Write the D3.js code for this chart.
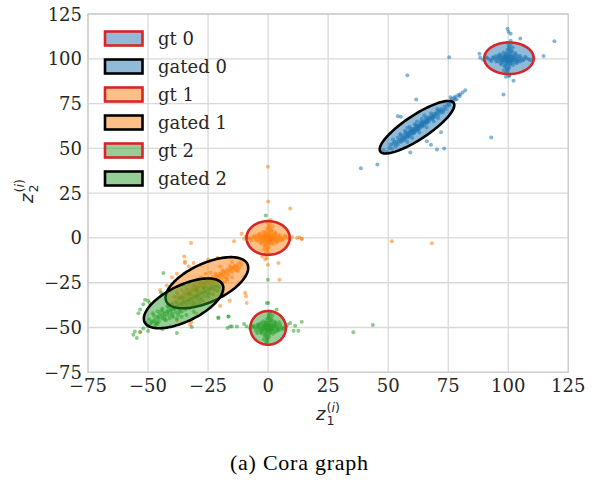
<!DOCTYPE html>
<html><head><meta charset="utf-8">
<script src="https://cdn.jsdelivr.net/npm/d3@7"></script>
<style>body{margin:0;background:#fff}</style>
</head><body><svg id="c" width="592" height="480"></svg>
<script>
// ---------- data ----------
const xTicks = [-75,-50,-25,0,25,50,75,100,125];
const yTicks = [-75,-50,-25,0,25,50,75,100,125];
const legendLabels = ["gt 0","gated 0","gt 1","gated 1","gt 2","gated 2"];
const caption = "(a) Cora graph";

// class 0 (blue) embedded points
const class0Points = [
 [100,100],[99.2,100.4],[100.8,99.6],[100.4,101],[99.6,99],[98.4,100.2],[101.6,99.8],[100.2,101.8],[99.8,98.2],[97.5,100.5],[102.5,99.5],[100.5,102.8],[99.5,97.2],[96.5,99.8],[103.5,100.2],[100,104],[100,96],[95.5,100.3],[104.5,99.7],[99.6,105],[100.4,95],[101.2,101.4],[98.8,98.6],[101.4,98.8],[98.6,101.2],[97.8,102],[102.2,98],[97.6,98.2],[102.4,101.8],[94.5,99.8],[105.5,100.2],[100.3,106],[99.7,94],[93.5,100.4],[106.5,99.6],[100.2,107],[99.8,93],[96.5,102.5],[103.5,97.5],[96.8,97.5],[103.2,102.5],[92.5,99.5],[107.5,100.5],[100.8,108],[99.2,92],[95,101.5],[105,98.5],[101.5,104.5],[98.5,95.5],[91.5,100.2],[108.5,99.8],[99.5,109],[100.5,91],[99,103],[101,97],[98,99],[102,101],[97,101],[103,99],[100.6,100.6],[99.4,99.4],[95.8,98.6],[104.2,101.4],[101.8,106.5],[98.2,93.5],[90.8,100.8],[109.2,99.2],
 [99,101.5],[101,98.5],[98.5,100.8],[101.5,99.2],[100.3,99.3],[99.7,100.7],[97,99.2],[103,100.8],[99.3,102.5],[100.7,97.5],[96,101],[104,99],[98,103.5],[102,96.5],[98.8,96],[101.2,104],[95,98.5],[105,101.5],[97.2,96.8],[102.8,103.2],[94,101],[106,99],[101,110],[99,90],[89.5,99.5],[110.5,100.5],[100,100.8],[100,99.2],[99.1,99.8],[100.9,100.2],[97.8,99.6],[102.2,100.4],[99.9,101.3],[100.1,98.7],[96.3,101.8],[103.7,98.2],[101.3,102.6],[98.7,97.4],[93,98.8],[107,101.2],[100.6,105.5],[99.4,94.5],
 [99.7,116.8],[100.1,115.1],[101,114],[105,111.3],[119.2,109.8],[114.7,101.5],[88,102.8],[88.3,100.6],[102.2,87.7],[98,80.1],[100.3,90.3],[75.4,100.9],[58,90.8],[61.7,77.3],[92.9,56],[38.6,38.9],[45.5,41],[70.3,49.3],[73.3,49.9],[59.2,47.7],[67.8,52],[66.1,54],[72,59],[82.1,82.5],[81,81.2],[79.7,79.1],[77.9,77.3],[54,67.9],[55.3,67.6],
 [50.5,50.2],[51.5,49.8],[52,52.5],[53,51],[53.5,53.8],[54,52.2],[54.8,55],[55.2,53.6],[55.8,56.2],[56,54.2],[56.5,57.5],[57,55.5],[57.3,56.8],[57.8,58.5],[58,56],[58.4,57.5],[58.8,59.5],[59,57.2],[59.3,58.4],[59.6,60.2],[60,58],[60.2,59.3],[60.5,61],[60.8,58.8],[61,60],[61.3,61.8],[61.5,59.5],[61.8,60.8],[62,62.5],[62.2,60.2],[62.5,61.5],[62.8,63],[63,61],[63.3,62.4],[63.6,64],[64,62],[64.2,63.3],[64.6,65],[65,63],[65.3,64.4],[65.7,66.2],[66,64],[66.4,65.5],[66.8,67.3],[67,65],[67.5,66.6],[68,68.4],[68.3,66.2],[68.8,67.8],[69.2,69.5],[69.6,67.5],[70,69],[70.5,70.8],[71,68.8],[71.4,70.4],[72,72],[72.3,70],[72.8,71.6],[73.4,73.2],[74,72],[74.5,73.8],[75,75],[75.5,74],[76,76.2],[57,59.8],[59,62],[61,63.5],[64,66.5],[63,58.8],[66,61.8],[69,65],[52,55],[55,58],[58,53.5],[48,49],[49.5,48],
 [53.2,52.5],[54.5,54],[55.5,55],[56.3,55.8],[57.5,57],[58.2,58],[59,58.8],[59.8,59.5],[60.4,60],[61.2,60.8],[61.9,61.5],[62.6,62.2],[63.4,63],[64.1,63.8],[64.8,64.5],[65.6,65.2],[66.5,66],[67.3,66.8],[68.2,67.5],[69.1,68.3],[70.2,69.6],[71.5,71],[56.8,54.6],[58.6,56.5],[60.6,58.4],[62.4,60.6],[64.4,62.5],[66.2,64.7],[68.5,66.9],[55.2,57.2],[57.2,59],[59.5,61],[61.6,63],[63.7,65.2],[65.8,67.4],[67.8,69.6],[70.5,72],[52.5,53.5],[54,56],[73,70.5],[51,52],[60,55.8],[65,68.5],[70.8,67],[62,65],[58,61.5],
 [76.5,77.5],[77.5,78.2],[78.5,77.4],[79.2,79.8],[77,76.5],[80,80.2],[78,79],[76,78.5]
];
// class 1 (orange) embedded points
const class1Points = [
 [0,0],[-0.8,0.4],[0.8,-0.4],[0.4,1],[-0.4,-1],[-1.6,0.2],[1.6,-0.2],[0.2,1.8],[-0.2,-1.8],[-2.5,0.5],[2.5,-0.5],[0.5,2.8],[-0.5,-2.8],[-3.5,-0.2],[3.5,0.2],[0,4],[0,-4],[-4.5,0.3],[4.5,-0.3],[-0.4,5],[0.4,-5],[1.2,1.4],[-1.2,-1.4],[1.4,-1.2],[-1.4,1.2],[-2.2,2],[2.2,-2],[-2.4,-1.8],[2.4,1.8],[-5.5,-0.2],[5.5,0.2],[0.3,6],[-0.3,-6],[-6.5,0.4],[6.5,-0.4],[0.2,7],[-0.2,-7],[-3.5,2.5],[3.5,-2.5],[-3.2,-2.5],[3.2,2.5],[-7.5,-0.5],[7.5,0.5],[0.8,8],[-0.8,-8],[-5,1.5],[5,-1.5],[1.5,4.5],[-1.5,-4.5],[-8.5,0.2],[8.5,-0.2],[-0.5,9],[0.5,-9],[-1,3],[1,-3],[-2,-1],[2,1],[-3,1],[3,-1],[0.6,0.6],[-0.6,-0.6],[-4.2,-1.4],[4.2,1.4],[1.8,6.5],[-1.8,-6.5],[-9.2,0.8],[9.2,-0.8],
 [-1,1.5],[1,-1.5],[-1.5,0.8],[1.5,-0.8],[0.3,-0.7],[-0.3,0.7],[-3,-0.8],[3,0.8],[-0.7,2.5],[0.7,-2.5],[-4,1],[4,-1],[-2,3.5],[2,-3.5],[-1.2,-4],[1.2,4],[-5,-1.5],[5,1.5],[-2.8,-3.2],[2.8,3.2],[-6,1],[6,-1],[1,10],[-1,-9.5],[-10,-0.5],[10,0.5],[0,0.8],[0,-0.8],[-0.9,-0.2],[0.9,0.2],[-2.2,-0.4],[2.2,0.4],[-0.1,1.3],[0.1,-1.3],[-3.7,1.8],[3.7,-1.8],[1.3,2.6],[-1.3,-2.6],[-7,-1.2],[7,1.2],[0.6,5.5],[-0.6,-5.5],
 [-14.2,-1.9],[-11,2.4],[12,0],[14,-0.6],[14,-0.4],[-1.25,-12.1],[-0.1,-14.9],[4.3,-14],[-2.4,-10.3],[0,20.4],[9.2,16.4],[4.7,-23.3],[-0.5,-11.2],[51.5,-1.9],[68.2,-3],[-0.1,39.7],[13,0.4],
 [-40,-36.5],[-39,-33],[-38,-35.5],[-37.5,-31.5],[-37,-34],[-36,-32.5],[-35.5,-35],[-35,-30.5],[-34.5,-33],[-34,-31.2],[-33.5,-28.8],[-33,-32.5],[-32.5,-30],[-32,-27.8],[-31.5,-31.5],[-31,-29],[-30.5,-26.5],[-30,-30.5],[-29.5,-28],[-29,-25.5],[-28.5,-29.2],[-28,-26.8],[-27.5,-24.5],[-27,-28],[-26.5,-25.5],[-26,-23.5],[-25.5,-27],[-25,-25],[-24.5,-22.8],[-24,-26.2],[-23.5,-24],[-23,-21.8],[-22.5,-25],[-22,-23],[-21.5,-20.8],[-21,-24],[-20.5,-22],[-20,-19.8],[-19.5,-23],[-19,-21],[-18.5,-18.8],[-18,-21.8],[-17.5,-19.8],[-17,-17.5],[-16.5,-20.5],[-16,-18.5],[-15.5,-16.5],[-15,-19],[-14.5,-17],[-14,-15.5],[-13.5,-18],[-13,-16],[-12.5,-14.5],[-12,-16.8],[-11.5,-13.5],[-28,-22],[-30,-24],[-26,-30],[-22,-28],[-33,-26],[-19,-25],[-24,-19.5],[-36,-29],[-20,-16],[-35,-26.5],[-38,-30],[-17,-23.5],[-15,-13.5],[-29.5,-33],
 [-36.5,-33.5],[-35,-32],[-33.8,-31],[-32.6,-30],[-31.4,-29],[-30.2,-28],[-29,-27.2],[-27.8,-26.2],[-26.6,-25.4],[-25.4,-24.5],[-24.2,-23.6],[-23,-22.8],[-21.8,-22],[-20.6,-21],[-19.4,-20.2],[-18.2,-19.4],[-17,-18.6],[-15.8,-17.6],[-14.6,-16.8],[-13.4,-15.8],[-34,-28.5],[-31,-26.5],[-28,-24.5],[-25,-22.5],[-22,-20],[-19,-18],[-16,-15.5],[-33,-34.5],[-30,-32.5],[-27,-30.5],[-24,-28.5],[-21,-26.5],[-18,-24.5],[-15,-22],[-38.5,-33],[-12.5,-18.5],[-11,-15],[-26,-20],[-23,-26.5],[-29.5,-23],
 [-32.1,-2.8],[-34.9,-10.3],[-34.7,-13.1],[-34.6,-14],[-9.6,-30.7],[-9.2,-32.6],[-8.9,-36.3],[-32.5,-48.4],[-32,-47],[-53.3,-52.7],[-42.2,-26.6],[-17.2,-22.3],[-13,-17.7],[-40,-22],[-38,-20],[-33,-16],[-31,-14],[-45,-29],[-25,-12],[-28,-15],[-21,-11],[-10,-22],[-12,-25],[-16,-35],[-20,-38],[-30,-42],[-38,-46]
];
// class 2 (green) embedded points
const class2Points = [
 [0,-50],[-0.8,-49.6],[0.8,-50.4],[0.4,-49],[-0.4,-51],[-1.6,-49.8],[1.6,-50.2],[0.2,-48.2],[-0.2,-51.8],[-2.5,-49.5],[2.5,-50.5],[0.5,-47.2],[-0.5,-52.8],[-3.5,-50.2],[3.5,-49.8],[0,-46],[0,-54],[-4.5,-49.7],[4.5,-50.3],[-0.4,-45],[0.4,-55],[1.2,-48.6],[-1.2,-51.4],[1.4,-51.2],[-1.4,-48.8],[-2.2,-48],[2.2,-52],[-2.4,-51.8],[2.4,-48.2],[-5.5,-50.2],[5.5,-49.8],[0.3,-44],[-0.3,-56],[-6.5,-49.6],[6.5,-50.4],[0.2,-43],[-0.2,-57],[-3,-47.5],[3,-52.5],[-3,-52.5],[3,-47.5],[-7.5,-50.5],[7.5,-49.5],[0.8,-42],[-0.8,-58],[-4.5,-48.5],[4.5,-51.5],[1.5,-45.5],[-1.5,-54.5],[-1,-47],[1,-53],[-2,-51],[2,-49],[0.6,-49.4],[-0.6,-50.6],[-3.8,-51.4],[3.8,-48.6],[1.8,-43.5],[-1.8,-56.5],
 [-1,-48.5],[1,-51.5],[-1.5,-49.2],[1.5,-50.8],[0.3,-50.7],[-0.3,-49.3],[-3,-50.8],[3,-49.2],[-0.7,-47.5],[0.7,-52.5],[-4,-49],[4,-51],[-2,-46.5],[2,-53.5],[-1.2,-54],[1.2,-46],[-5,-51.5],[5,-48.5],[-2.8,-53.2],[2.8,-46.8],[-6,-49],[6,-51],[0.5,-41],[-0.5,-59],[0,-49.2],[0,-50.8],[-0.9,-50.2],[0.9,-49.8],[-2.2,-50.4],[2.2,-49.6],[-0.1,-48.7],[0.1,-51.3],[-3.7,-48.2],[3.7,-51.8],[1.3,-47.4],[-1.3,-52.6],[-4.5,-53],[4.5,-47],[0.6,-44.5],[-0.6,-55.5],
 [0.1,-36.3],[-20.7,-44.4],[-16.5,-43.8],[-15.1,-49.4],[-13,-49.4],[-16.9,-50.3],[-8.9,-49.4],[9.2,-47.5],[11.25,-49],[12.6,-51.8],[10.6,-51.8],[3.6,-40],[-1,12.5],[-0.1,-23.3],[-0.5,-36.3],[14,-46.8],[35.5,-52.7],[43.6,-48.6],[-15.8,-49.4],[-10,-48],[8,-48.5],
 [-52,-50.5],[-51,-47],[-50,-49.5],[-49.5,-45.5],[-49,-48],[-48,-46.5],[-47.5,-43.5],[-47,-47.5],[-46,-44],[-45.5,-46.5],[-45,-42.5],[-44,-45],[-43.5,-41.5],[-43,-43.8],[-42.5,-46],[-42,-40.8],[-41.5,-43],[-41,-45],[-40.5,-40],[-40,-42],[-39.5,-44],[-39,-39.5],[-38.5,-41.5],[-38,-37.5],[-37.5,-43],[-37,-39.8],[-36.5,-36.5],[-36,-41],[-35.5,-38.5],[-35,-35.5],[-34.5,-40],[-34,-37.5],[-33.5,-34.8],[-33,-39],[-32.5,-36.5],[-32,-33.8],[-31.5,-38],[-31,-35.5],[-30.5,-32.8],[-30,-37],[-29.5,-34.5],[-29,-31.8],[-28.5,-36],[-28,-33.5],[-27.5,-31],[-27,-35],[-26.5,-32.5],[-26,-30],[-25,-33],[-24.5,-30.8],[-24,-28.5],[-23,-31.5],[-22.5,-29],[-22,-27],[-21,-29.5],[-20.5,-27.5],[-40,-37],[-44,-39.5],[-37,-33.5],[-33,-31],[-30,-28.5],[-46,-41],[-42,-38],[-27,-28],[-38,-45],[-34,-43],[-48,-42],
 [-48.5,-47],[-47,-45.5],[-45.5,-44.5],[-44.2,-43.5],[-43,-42.5],[-41.8,-41.5],[-40.6,-40.6],[-39.4,-39.6],[-38.2,-38.7],[-37,-37.8],[-35.8,-36.9],[-34.6,-36],[-33.4,-35],[-32.2,-34.2],[-31,-33.2],[-29.8,-32.3],[-28.6,-31.4],[-27.4,-30.5],[-26.2,-29.5],[-25,-28.6],[-46,-48],[-43,-45.5],[-40,-43.5],[-37,-41.5],[-34,-39],[-31,-36.8],[-28,-34.5],[-25,-31.5],[-44.5,-40.5],[-41.5,-38.5],[-38.5,-36],[-35.5,-33.5],[-32.5,-31.5],[-29.5,-29.8],[-26.5,-27.5],[-50.5,-48.5],[-23.5,-27.5],[-47,-49],[-36,-44],[-31,-41],
 [-43.6,-19.6],[-44.6,-30.4],[-51.25,-34.5],[-50,-35],[-49.3,-36.3],[-53.3,-40],[-55.5,-52.2],[-56.1,-54],[-53.3,-52.5],[-54.7,-55.9],[-46.4,-47.5],[-38,-53.1],[-31.8,-49.7],[-16.5,-43.8],[-20.7,-44.7],[-52,-37],[-54,-42],[-50,-52],[-44,-51]
];

// ellipses in legend order: centre, semi-axes (major, minor), rotation in degrees, class
const ellipseCenters = [[100.3,100.3],[62,61.8],[0,0],[-25.5,-25],[0,-50.2],[-35.2,-36.5]];
const ellipseAxes    = [[10.3,8.8],[20.5,6],[9,9.4],[20,10],[7.4,9.4],[19.5,9.3]];
const ellipseAngles  = [0,43,0,36,0,37];
const ellipseClass   = [0,0,1,1,2,2];

// ---------- styles ----------
const classColors = ["#1f77b4","#ff7f0e","#2ca02c"];
const edgeColors = ["#d62728","#000000","#d62728","#000000","#d62728","#000000"];

const svg = d3.select("#c");
const x = d3.scaleLinear().domain([-75,125]).range([88,568.3]);
const y = d3.scaleLinear().domain([-75,125]).range([372.3,14]);
const fmt = d3.format("");
const tickFont = "'DejaVu Serif', serif";

// grid
const g = svg.append("g");
g.selectAll(".gx").data(xTicks).join("line")
  .attr("x1",d=>x(d)).attr("x2",d=>x(d)).attr("y1",y(-75)).attr("y2",y(125))
  .attr("stroke","#d9d9d9").attr("stroke-width",1.3);
g.selectAll(".gy").data(yTicks).join("line")
  .attr("y1",d=>y(d)).attr("y2",d=>y(d)).attr("x1",x(-75)).attr("x2",x(125))
  .attr("stroke","#d9d9d9").attr("stroke-width",1.3);
g.append("rect").attr("x",x(-75)).attr("y",y(125)).attr("width",x(125)-x(-75)).attr("height",y(-75)-y(125))
  .attr("fill","none").attr("stroke","#cccccc").attr("stroke-width",1.3);

// tick labels
svg.append("g").selectAll("text").data(xTicks).join("text")
  .attr("x",d=>x(d)).attr("y",392).attr("text-anchor","middle")
  .attr("font-family",tickFont).attr("font-size",18).attr("fill","#262626")
  .text(d=>fmt(d));
svg.append("g").selectAll("text").data(yTicks).join("text")
  .attr("x",82).attr("y",d=>y(d)+6.5).attr("text-anchor","end")
  .attr("font-family",tickFont).attr("font-size",18).attr("fill","#262626")
  .text(d=>fmt(d));

// points
svg.append("clipPath").attr("id","pc").append("rect")
  .attr("x",x(-75)).attr("y",y(125)).attr("width",x(125)-x(-75)).attr("height",y(-75)-y(125));
const pts = svg.append("g").attr("clip-path","url(#pc)");
[class0Points,class1Points,class2Points].forEach((arr,i)=>{
  pts.append("g").selectAll("circle").data(arr).join("circle")
    .attr("cx",d=>x(d[0])).attr("cy",d=>y(d[1])).attr("r",2)
    .attr("fill",classColors[i]).attr("fill-opacity",0.55);
});

// ellipses
function ellipsePath(c, ax, angDeg){
  const th = angDeg*Math.PI/180, n = 120, p = d3.path();
  for(let k=0;k<=n;k++){
    const t = 2*Math.PI*k/n;
    const ex = c[0] + ax[0]*Math.cos(t)*Math.cos(th) - ax[1]*Math.sin(t)*Math.sin(th);
    const ey = c[1] + ax[0]*Math.cos(t)*Math.sin(th) + ax[1]*Math.sin(t)*Math.cos(th);
    if(k===0) p.moveTo(x(ex),y(ey)); else p.lineTo(x(ex),y(ey));
  }
  p.closePath();
  return p.toString();
}
const eg = svg.append("g");
ellipseCenters.forEach((c,i)=>{
  eg.append("path").attr("d",ellipsePath(c,ellipseAxes[i],ellipseAngles[i]))
    .attr("fill",classColors[ellipseClass[i]]).attr("fill-opacity",0.5)
    .attr("stroke",edgeColors[i]).attr("stroke-width",2.6).attr("stroke-linejoin","round");
});

// legend
const lg = svg.append("g");
legendLabels.forEach((lab,i)=>{
  const cy = 38.5 + 28*i;
  lg.append("rect").attr("x",105).attr("y",cy-7).attr("width",37.5).attr("height",14)
    .attr("fill",classColors[ellipseClass[i]]).attr("fill-opacity",0.5)
    .attr("stroke",edgeColors[i]).attr("stroke-width",2.6);
  lg.append("text").attr("x",158).attr("y",cy+6.5)
    .attr("font-family",tickFont).attr("font-size",18).attr("fill","#262626").text(lab);
});

// axis labels (math style)
function mathLabel(parent, sub){
  const f = "'DejaVu Sans', sans-serif";
  parent.append("text").attr("x",0).attr("y",0).attr("font-family",f).attr("font-style","italic")
    .attr("font-size",18).attr("fill","#262626").text("z");
  parent.append("text").attr("x",10.5).attr("y",5).attr("font-family",f)
    .attr("font-size",12.6).attr("fill","#262626").text(sub);
  const s = parent.append("text").attr("x",10.5).attr("y",-8.5).attr("font-family",f)
    .attr("font-size",12.6).attr("fill","#262626");
  s.append("tspan").text("(");
  s.append("tspan").attr("font-style","italic").text("i");
  s.append("tspan").text(")");
}
mathLabel(svg.append("g").attr("transform","translate(316,420)"), "1");
mathLabel(svg.append("g").attr("transform","translate(32.5,203) rotate(-90)"), "2");

// caption
svg.append("text").attr("x",299).attr("y",470).attr("text-anchor","middle")
  .attr("font-family","'Liberation Serif', 'Times New Roman', serif").attr("font-size",22)
  .attr("fill","#000").attr("textLength",138).attr("lengthAdjust","spacing").text(caption);
</script></body></html>
